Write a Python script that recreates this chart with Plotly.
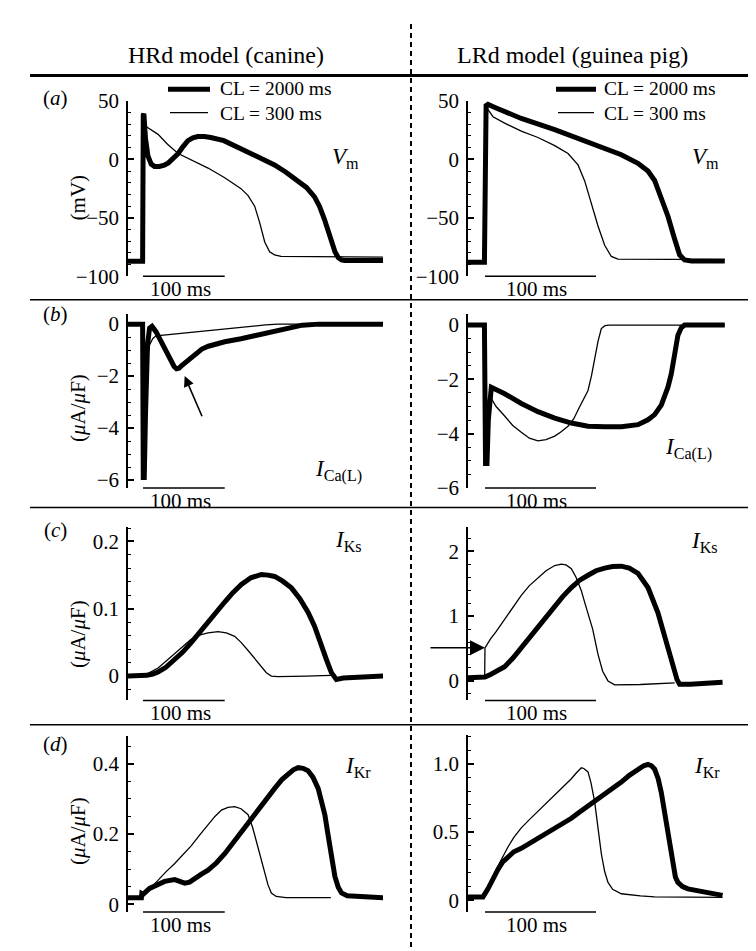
import plotly.graph_objects as go

W, H = 756, 951
FONT = "Liberation Serif, Times New Roman, serif"

# ---------------- data (t in ms, upstroke at t = 0) ----------------
# (a) Vm, HRd (canine)
aL_thick_t = [-20, -0.5, 0.3, 1.0, 3, 6, 10, 14, 20, 26, 31, 37, 43, 49, 55, 61, 67, 75, 83, 99, 120, 141, 161, 175, 190, 200, 210, 216, 222, 226, 230, 235, 239, 243, 247, 294]
aL_thick_v = [-87, -87, 38, 39, 18, 3, -4, -6, -6, -5, -3, 1, 5, 11, 16, 18.5, 19.5, 19.5, 18.7, 16, 9, 2.7, -4.7, -11, -18.4, -24, -32, -40, -51, -60, -70.6, -79, -84, -86, -86.5, -86.5]
aL_thin_t = [-20, -0.5, 0.5, 6, 18.4, 30, 43, 63, 79.6, 100, 120, 128.6, 136.7, 142.8, 149, 155, 161, 169, 294]
aL_thin_v = [-87, -87, 30, 27, 21.4, 13, 5, -2, -7.4, -15.7, -25, -31, -40, -54, -70.6, -79, -81.6, -83, -83.5]
# (a) Vm, LRd (guinea pig)
aR_thick_t = [-16, -0.5, 1, 2.7, 10, 17.7, 32.7, 62.8, 92.8, 122.8, 137.8, 146.8, 152.8, 158.8, 164.8, 170.8, 175.3, 179.8, 186, 216]
aR_thick_v = [-88, -88, 46, 47, 44, 40.7, 35, 25.5, 15, 4, -3.3, -10, -18, -32, -48.6, -68, -81.6, -86, -86.8, -86.8]
aR_thin_t = [-16, -0.5, 1, 7.2, 17.7, 32.7, 47.7, 62.8, 74.8, 83.8, 89.8, 95.8, 101.8, 107.8, 113.8, 119.8, 216]
aR_thin_v = [-88, -88, 44.8, 36.5, 31, 24.2, 18.7, 11.8, 5, -4.7, -18.4, -37.6, -56.9, -73.4, -83, -85.2, -85.7]

# (b) ICa(L), HRd
bL_thick_t = [-20, -0.5, 0.3, 1.5, 3, 5.5, 8, 11, 16, 21, 26.5, 31, 34.7, 38, 41, 44, 47, 52, 57.7, 64, 72, 80, 88, 100, 120, 140, 161, 180, 195, 215, 294]
bL_thick_v = [0, 0, -5.9, -5.9, -3.5, -0.8, -0.15, -0.08, -0.3, -0.6, -0.93, -1.25, -1.49, -1.63, -1.72, -1.7, -1.6, -1.47, -1.34, -1.15, -0.96, -0.85, -0.77, -0.68, -0.56, -0.42, -0.27, -0.12, -0.04, 0, 0]
bL_thin_t = [-20, -0.5, 0.5, 1.5, 3, 5, 8, 12, 16, 25, 35, 50, 70, 90, 110, 130, 150, 165, 294]
bL_thin_v = [0, 0, -5.5, -4.5, -2.5, -1.4, -0.8, -0.55, -0.45, -0.42, -0.4, -0.36, -0.29, -0.21, -0.14, -0.08, -0.03, 0, 0]
# (b) ICa(L), LRd
bR_thick_t = [-16, -0.5, 0.5, 1.8, 3, 4.5, 5.7, 17.7, 32.7, 47.7, 62.8, 77.8, 92.8, 107.8, 122.8, 137.8, 146.8, 152.8, 158.8, 164.8, 167.8, 170.8, 173.8, 176.8, 179.8, 216]
bR_thick_v = [0, 0, -5.1, -5.1, -3.5, -2.4, -2.29, -2.53, -2.89, -3.19, -3.43, -3.61, -3.73, -3.75, -3.75, -3.67, -3.49, -3.3, -2.95, -2.29, -1.8, -1.09, -0.37, -0.1, 0, 0]
bR_thin_t = [-16, -0.5, 0.5, 2, 4.2, 10, 17.7, 25, 32.7, 40, 47.7, 55, 62.8, 68, 74.8, 80, 83.8, 88, 92.8, 96, 98.8, 101.8, 104.8, 108, 112, 216]
bR_thin_v = [0, 0, -4.8, -3.5, -2.6, -3.0, -3.35, -3.7, -3.95, -4.17, -4.27, -4.22, -4.09, -3.95, -3.73, -3.45, -3.13, -2.8, -2.41, -1.85, -1.21, -0.6, -0.13, -0.02, 0, 0]

# (c) IKs, HRd
cL_thick_t = [-20, -2, 5, 12, 18.4, 28, 38.8, 49, 59.2, 69, 79.6, 90, 100, 110, 120.4, 132, 144.9, 153, 161.2, 171, 181.6, 192, 202, 210, 218.4, 225, 230.6, 236.7, 245, 270, 294]
cL_thick_v = [0, 0, 0.001, 0.003, 0.006, 0.013, 0.024, 0.036, 0.05, 0.065, 0.081, 0.096, 0.11, 0.124, 0.136, 0.146, 0.151, 0.15, 0.148, 0.141, 0.131, 0.115, 0.095, 0.074, 0.048, 0.023, 0.005, -0.005, -0.003, -0.001, 0]
cL_thin_t = [-20, -2, 8, 18.4, 28, 38.8, 49, 59.2, 70, 79.6, 91.8, 102, 112.2, 120, 128.6, 137, 144.9, 151, 157.1, 165, 200, 230]
cL_thin_v = [0, 0, 0.005, 0.012, 0.022, 0.033, 0.044, 0.055, 0.061, 0.064, 0.066, 0.064, 0.059, 0.05, 0.038, 0.025, 0.014, 0.005, 0, -0.001, 0, 0.001]
# (c) IKs, LRd
cR_thick_t = [-16, 0, 5, 10, 17.7, 25, 32.7, 40, 47.7, 55, 62.8, 70, 77.8, 85, 92.8, 100, 107.8, 115, 122.8, 130, 137.8, 142, 146.8, 151, 155.8, 160, 164.8, 168, 170.8, 173, 175.3, 185, 214]
cR_thick_v = [0.05, 0.06, 0.1, 0.14, 0.22, 0.35, 0.51, 0.68, 0.85, 1.0, 1.15, 1.3, 1.44, 1.55, 1.63, 1.7, 1.74, 1.765, 1.77, 1.74, 1.66, 1.56, 1.44, 1.26, 1.05, 0.8, 0.51, 0.3, 0.12, 0.02, -0.05, -0.05, -0.02]
cR_thin_t = [-16, -0.3, 0, 5, 10, 17.7, 25, 32.7, 40, 47.7, 55, 62.8, 68.8, 73, 77.8, 82, 86.8, 90, 92.8, 97, 101.8, 106, 110.8, 116.8, 140, 170.8]
cR_thin_v = [0.05, 0.05, 0.51, 0.65, 0.76, 0.95, 1.15, 1.32, 1.47, 1.59, 1.7, 1.78, 1.8, 1.79, 1.73, 1.6, 1.39, 1.2, 1.05, 0.8, 0.41, 0.15, 0, -0.06, -0.055, -0.03]

# (d) IKr, HRd
dL_thick_t = [-20, -2, -1.5, 0, 8, 16, 26.5, 38.8, 45, 51, 57, 63, 71, 79.6, 90, 100, 110, 120.4, 130, 140.8, 151, 161.2, 170, 177.6, 184, 189.9, 196, 202, 208, 214.4, 218.5, 222.6, 226, 228.8, 232, 234.9, 239, 243, 250, 270, 294]
dL_thick_v = [0.018, 0.018, 0.03, 0.028, 0.045, 0.055, 0.065, 0.07, 0.066, 0.06, 0.063, 0.074, 0.085, 0.097, 0.118, 0.144, 0.175, 0.208, 0.238, 0.27, 0.3, 0.33, 0.355, 0.37, 0.383, 0.389, 0.387, 0.38, 0.362, 0.33, 0.295, 0.255, 0.205, 0.162, 0.115, 0.079, 0.048, 0.032, 0.024, 0.02, 0.0185]
dL_thin_t = [-20, -2, 5, 18.4, 28, 38.8, 49, 59.2, 69, 79.6, 88, 96, 104, 112.2, 120, 128.6, 134, 137.5, 140.8, 145, 149, 153, 157.1, 163, 175, 230]
dL_thin_v = [0.018, 0.018, 0.035, 0.069, 0.092, 0.116, 0.141, 0.167, 0.196, 0.227, 0.25, 0.268, 0.276, 0.278, 0.272, 0.255, 0.22, 0.19, 0.162, 0.12, 0.088, 0.055, 0.032, 0.022, 0.0185, 0.0185]
# (d) IKr, LRd
dR_thick_t = [-16, -1.8, 2.7, 7, 11.7, 16, 20.7, 26, 32.7, 40, 47.7, 55, 62.8, 70, 77.8, 85, 92.8, 100, 107.8, 115, 122.8, 130, 137.8, 143, 146.8, 150, 152.8, 156, 158.8, 161.8, 164.8, 167, 169.3, 171.5, 173.8, 178, 182.8, 197.8, 214]
dR_thick_v = [0.024, 0.024, 0.083, 0.16, 0.225, 0.28, 0.32, 0.355, 0.38, 0.415, 0.45, 0.485, 0.52, 0.56, 0.6, 0.645, 0.69, 0.73, 0.77, 0.815, 0.865, 0.915, 0.96, 0.985, 0.995, 0.985, 0.96, 0.89, 0.79, 0.65, 0.51, 0.37, 0.25, 0.17, 0.13, 0.1, 0.083, 0.06, 0.035]
dR_thin_t = [-16, -1.8, 2.7, 7, 11.7, 16, 20.7, 26, 32.7, 40, 47.7, 55, 62.8, 70, 77.8, 82, 86.8, 89, 92.8, 95.5, 98.8, 101.8, 104.8, 107.8, 110.8, 115, 122.8, 140, 152.8, 214]
dR_thin_v = [0.024, 0.024, 0.083, 0.17, 0.25, 0.32, 0.39, 0.46, 0.53, 0.59, 0.65, 0.71, 0.77, 0.83, 0.89, 0.93, 0.97, 0.965, 0.94, 0.86, 0.72, 0.53, 0.34, 0.21, 0.13, 0.08, 0.047, 0.032, 0.024, 0.02]

# tick labels
a_ticks = [-100, -50, 0, 50]
a_ticktext = ["\u2212100", "\u221250", "0", "50"]
b_ticks = [-6, -4, -2, 0]
b_ticktext = ["\u22126", "\u22124", "\u22122", "0"]
cL_ticks = [0, 0.1, 0.2]
cL_ticktext = ["0", "0.1", "0.2"]
cR_ticks = [0, 1, 2]
cR_ticktext = ["0", "1", "2"]
dL_ticks = [0, 0.2, 0.4]
dL_ticktext = ["0", "0.2", "0.4"]
dR_ticks = [0, 0.5, 1.0]
dR_ticktext = ["0", "0.5", "1.0"]

scale_bar_ms = [0, 100]
series_names = ["CL = 2000 ms", "CL = 300 ms"]
headers = ["HRd model (canine)", "LRd model (guinea pig)"]
panel_letters = ["(<i>a</i>)", "(<i>b</i>)", "(<i>c</i>)", "(<i>d</i>)"]
current_labels = ["<i>V</i><sub>m</sub>", "<i>I</i><sub>Ca(L)</sub>", "<i>I</i><sub>Ks</sub>", "<i>I</i><sub>Kr</sub>"]
y_titles = ["(mV)", "(<i>\u03bc</i>A/<i>\u03bc</i>F)", "(<i>\u03bc</i>A/<i>\u03bc</i>F)", "(<i>\u03bc</i>A/<i>\u03bc</i>F)"]
# arrows: (b) HRd notch, (c) LRd initial IKs
arrow_b_head = (51, -2.0)
arrow_b_tail = (73, -3.6)
arrow_c_head = (0, 0.51)

# ---------------- layout geometry (pixels) ----------------
LX = (120, 375, -18.4, 293.8)   # left column: px0, px1, t0, t1
RX = (460, 717, -15.3, 216.2)   # right column

panels = [
    dict(col=LX, y0=83, y1=263, yr=[-100, 50], tv=a_ticks, tt=a_ticktext, mn=10,
         thick=(aL_thick_t, aL_thick_v), thin=(aL_thin_t, aL_thin_v), lab=(322, 142), labi=0),
    dict(col=RX, y0=83, y1=263, yr=[-100, 50], tv=a_ticks, tt=a_ticktext, mn=10,
         thick=(aR_thick_t, aR_thick_v), thin=(aR_thin_t, aR_thin_v), lab=(682, 142), labi=0),
    dict(col=LX, y0=302, y1=480, yr=[-6.3, 0.375], tv=b_ticks, tt=b_ticktext, mn=0.5,
         thick=(bL_thick_t, bL_thick_v), thin=(bL_thin_t, bL_thin_v), lab=(305, 462), labi=1),
    dict(col=RX, y0=302, y1=480, yr=[-6.0, 0.395], tv=b_ticks, tt=b_ticktext, mn=0.5,
         thick=(bR_thick_t, bR_thick_v), thin=(bR_thin_t, bR_thin_v), lab=(655, 440), labi=1),
    dict(col=LX, y0=520, y1=698, yr=[-0.0362, 0.2217], tv=cL_ticks, tt=cL_ticktext, mn=0.02,
         thick=(cL_thick_t, cL_thick_v), thin=(cL_thin_t, cL_thin_v), lab=(325, 534), labi=2),
    dict(col=RX, y0=520, y1=698, yr=[-0.30, 2.376], tv=cR_ticks, tt=cR_ticktext, mn=0.2,
         thick=(cR_thick_t, cR_thick_v), thin=(cR_thin_t, cR_thin_v), lab=(681, 536), labi=2),
    dict(col=LX, y0=735, y1=915, yr=[-0.022, 0.478], tv=dL_ticks, tt=dL_ticktext, mn=0.05,
         thick=(dL_thick_t, dL_thick_v), thin=(dL_thin_t, dL_thin_v), lab=(335, 766), labi=3),
    dict(col=RX, y0=733, y1=915, yr=[-0.086, 1.214], tv=dR_ticks, tt=dR_ticktext, mn=0.1,
         thick=(dR_thick_t, dR_thick_v), thin=(dR_thin_t, dR_thin_v), lab=(684, 766), labi=3),
]


def fx(px):
    return px / W


def fy(py):
    return 1 - py / H


fig = go.Figure()
layout = dict(width=W, height=H, margin=dict(l=0, r=0, t=0, b=0),
              paper_bgcolor="white", plot_bgcolor="rgba(0,0,0,0)", showlegend=False,
              font=dict(family=FONT, color="black", size=20))
annotations = []
shapes = []

for i, p in enumerate(panels, start=1):
    sfx = "" if i == 1 else str(i)
    xr = "x" + sfx
    yr = "y" + sfx
    px0, px1, t0, t1 = p["col"]
    layout["xaxis" + sfx] = dict(domain=[fx(px0), fx(px1)], range=[t0, t1], visible=False,
                                 anchor=yr, fixedrange=True)
    layout["yaxis" + sfx] = dict(domain=[fy(p["y1"]), fy(p["y0"])], range=p["yr"], anchor=xr,
                                 showline=True, linecolor="black", linewidth=1.6,
                                 ticks="inside", ticklen=6, tickwidth=1.5, tickcolor="black",
                                 tickmode="array", tickvals=p["tv"], ticktext=p["tt"],
                                 minor=dict(tickmode="linear", tick0=0, dtick=p["mn"], ticks="inside",
                                            ticklen=3, tickwidth=1, tickcolor="black", showgrid=False),
                                 showgrid=False, zeroline=False, ticklabelstandoff=3,
                                 tickfont=dict(family=FONT, size=21, color="black"), fixedrange=True)
    fig.add_trace(go.Scatter(x=p["thin"][0], y=p["thin"][1], mode="lines", name=series_names[1],
                             line=dict(color="black", width=1.3), xaxis=xr, yaxis=yr,
                             hoverinfo="skip"))
    fig.add_trace(go.Scatter(x=p["thick"][0], y=p["thick"][1], mode="lines", name=series_names[0],
                             line=dict(color="black", width=5), xaxis=xr, yaxis=yr,
                             hoverinfo="skip"))
    # scale bar
    shapes.append(dict(type="line", xref=xr, yref=yr + " domain", x0=scale_bar_ms[0], x1=scale_bar_ms[1],
                       y0=0, y1=0, line=dict(color="black", width=1.5)))
    annotations.append(dict(xref=xr, yref=yr + " domain", x=(scale_bar_ms[0] + scale_bar_ms[1]) / 2 - 4, y=0,
                            yanchor="top", xanchor="center", yshift=1, showarrow=False,
                            text="100 ms", font=dict(size=21)))
    # current label
    annotations.append(dict(xref="paper", yref="paper", x=fx(p["lab"][0]), y=fy(p["lab"][1]),
                            xanchor="left", yanchor="middle", showarrow=False,
                            text=current_labels[p["labi"]], font=dict(size=23)))

# panel letters and y titles
letter_y = [80, 302, 523, 743]
ytitle_y = [182, 398, 630, 832]
for k in range(4):
    annotations.append(dict(xref="paper", yref="paper", x=fx(47), y=fy(letter_y[k]), xanchor="center",
                            yanchor="middle", showarrow=False, text=panel_letters[k], font=dict(size=21)))
    annotations.append(dict(xref="paper", yref="paper", x=fx(70), y=fy(ytitle_y[k]), xanchor="center",
                            yanchor="middle", showarrow=False, text=y_titles[k], textangle=-90,
                            font=dict(size=21)))

# headers
for k, cx in enumerate([218, 564]):
    annotations.append(dict(xref="paper", yref="paper", x=fx(cx), y=fy(36), xanchor="center",
                            yanchor="middle", showarrow=False, text=headers[k], font=dict(size=24)))

# legends (in panel a of each column): one two-line text block per column
for lx0, lx1, tx in [(160, 202, 210), (548, 588, 594)]:
    shapes.append(dict(type="line", xref="paper", yref="paper", x0=fx(lx0), x1=fx(lx1), y0=fy(71), y1=fy(71),
                       line=dict(color="black", width=5)))
    shapes.append(dict(type="line", xref="paper", yref="paper", x0=fx(lx0 + 2), x1=fx(lx1 - 2), y0=fy(95),
                       y1=fy(95), line=dict(color="black", width=1.3)))
    annotations.append(dict(xref="paper", yref="paper", x=fx(tx), y=fy(83), xanchor="left", yanchor="middle",
                            align="left", showarrow=False,
                            text=series_names[0] + "<br>" + series_names[1], font=dict(size=19.5)))

# arrows
annotations.append(dict(xref="x3", yref="y3", axref="x3", ayref="y3", x=arrow_b_head[0], y=arrow_b_head[1],
                        ax=arrow_b_tail[0], ay=arrow_b_tail[1], showarrow=True, arrowhead=2, arrowsize=1.3,
                        arrowwidth=1.6, arrowcolor="black", standoff=0, text=""))
annotations.append(dict(xref="x6", yref="y6", x=arrow_c_head[0], y=arrow_c_head[1], ax=-56, ay=0,
                        showarrow=True, arrowhead=2, arrowsize=2, arrowwidth=1.5, arrowcolor="black",
                        standoff=0, text=""))

# separators
shapes.append(dict(type="line", xref="paper", yref="paper", x0=fx(22), x1=fx(745), y0=fy(57), y1=fy(57),
                   line=dict(color="black", width=3)))
for sy in [287, 500, 723]:
    shapes.append(dict(type="line", xref="paper", yref="paper", x0=fx(22), x1=fx(740), y0=fy(sy), y1=fy(sy),
                       line=dict(color="black", width=1.5)))
shapes.append(dict(type="line", xref="paper", yref="paper", x0=fx(403), x1=fx(403), y0=0, y1=1,
                   line=dict(color="black", width=2, dash="5px,4px")))

layout["annotations"] = annotations
layout["shapes"] = shapes
fig.update_layout(**layout)
fig.write_html("out.html")
